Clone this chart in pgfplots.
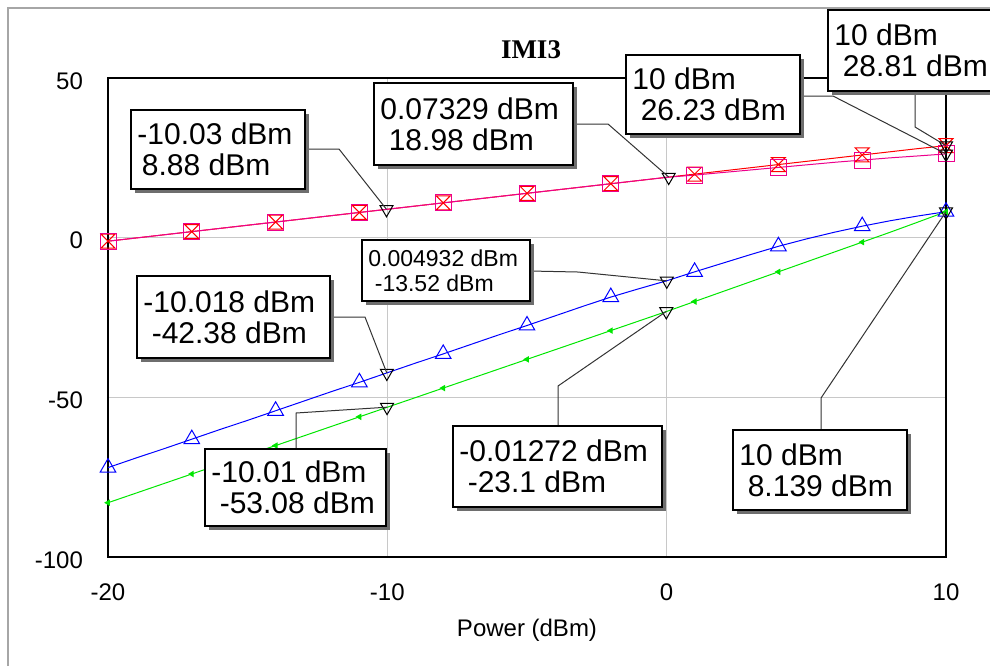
\documentclass[border=0pt]{standalone}
\usepackage{fontspec}
\setmainfont{Liberation Sans}
\newfontfamily\titlefont{Liberation Serif}
\usepackage{pgfplots}
\usepackage{pgfplotstable}
\pgfplotsset{compat=1.18}

\definecolor{lgreen}{RGB}{0,230,0}
\definecolor{gridc}{RGB}{200,200,200}
\definecolor{shadowc}{RGB}{110,110,110}

\pgfdeclareplotmark{hourglass}{%
  \pgfpathmoveto{\pgfpoint{-\pgfplotmarksize}{\pgfplotmarksize}}%
  \pgfpathlineto{\pgfpoint{\pgfplotmarksize}{\pgfplotmarksize}}%
  \pgfpathlineto{\pgfpoint{-\pgfplotmarksize}{-\pgfplotmarksize}}%
  \pgfpathlineto{\pgfpoint{\pgfplotmarksize}{-\pgfplotmarksize}}%
  \pgfpathclose
  \pgfusepathqstroke}

\pgfplotstableread{
x     red    mag    blue    green
-20  -1.1   -1.1   -72.0   -83.0
-19  -0.1   -0.1   -69.0   -80.0
-18   0.9    0.9   -66.1   -77.0
-17   1.9    1.9   -63.1   -74.0
-16   2.9    2.9   -60.1   -71.0
-15   3.9    3.9   -57.2   -68.0
-14   4.9    4.9   -54.2   -65.1
-13   5.9    5.9   -51.2   -62.1
-12   6.9    6.9   -48.2   -59.1
-11   7.9    7.9   -45.3   -56.1
-10   8.9    8.9   -42.3   -53.1
-9    9.9    9.9   -39.3   -50.1
-8   10.9   10.9   -36.4   -47.1
-7   11.9   11.9   -33.4   -44.1
-6   12.9   12.9   -30.4   -41.1
-5   13.9   13.9   -27.5   -38.1
-4   14.9   14.9   -24.5   -35.1
-3   15.9   15.9   -21.5   -32.1
-2   16.9   16.9   -18.6   -29.1
-1   17.9   17.9   -16.0   -26.1
0    18.9   18.9   -13.5   -23.1
1    19.9   19.6   -10.7   -20.0
2    20.9   20.4    -8.0   -16.9
3    21.9   21.2    -5.3   -13.8
4    22.9   22.0    -2.7   -10.7
5    23.9   22.8    -0.4    -7.6
6    24.9   23.6     1.7    -4.5
7    25.9   24.3     3.6    -1.4
8    26.9   25.0     5.3     1.7
9    27.9   25.6     6.8     4.9
10   28.81  26.23    8.14    8.14
}\datatable

\newcommand\bigf{\fontsize{15pt}{15.5pt}\selectfont}
\newcommand\smallf{\fontsize{11.5pt}{12.5pt}\selectfont}
\newcommand\ind{\hspace*{0.28em}}
% x1 y1 x2 y2 font text   (pixel units, y downwards)
\newcommand\abox[6]{%
  \fill[shadowc] (#1+4,#2+4) rectangle (#3+4,#4+4);
  \draw[fill=white, line width=0.75pt] (#1,#2) rectangle (#3,#4);
  \node[anchor=west, align=left, inner sep=0pt, font=#5] at (#1+6,{(#2+#4)/2}) {#6};
}

\begin{document}
\begin{tikzpicture}
\path[use as bounding box] (0,0) rectangle (495pt,-333pt);
\begin{axis}[
  at={(54pt,-278.5pt)}, anchor=south west,
  scale only axis, width=419pt, height=239.5pt,
  xmin=-20, xmax=10, ymin=-100, ymax=50,
  xtick={-20,-10,0,10}, xticklabels={-20,-10,0,10},
  ytick={-100,-50,0,50}, yticklabels={-100,-50,0,50},
  major tick length=0pt,
  grid=major, major grid style={gridc, line width=0.5pt},
  axis line style={black, line width=0.8pt},
  tick label style={font=\fontsize{12pt}{14pt}\selectfont},
  xticklabel style={yshift=-10pt},
  yticklabel style={anchor=east, xshift=-9pt, yshift=-1.5pt},
  clip=false,
]
\addplot[red, line width=0.5pt, mark=hourglass, mark size=3.5pt, mark repeat=3, mark phase=1, mark options={solid, line width=0.5pt}] table[x=x, y=red] {\datatable};
\addplot[magenta, line width=0.5pt, mark=square, mark size=4pt, mark repeat=3, mark phase=1, mark options={solid, line width=0.5pt}] table[x=x, y=mag] {\datatable};
\addplot[blue, line width=0.5pt, mark=triangle, mark size=4.5pt, mark repeat=3, mark phase=1, mark options={solid, line width=0.5pt}] table[x=x, y=blue] {\datatable};
\addplot[lgreen, line width=0.5pt, mark=triangle*, mark size=1.4pt, mark repeat=3, mark phase=1, mark options={solid, rotate=90}] table[x=x, y=green] {\datatable};
\addplot[black, only marks, mark=triangle, mark size=3.75pt, mark options={rotate=180, line width=0.5pt}] coordinates {
  (-10.03,8.88) (0.07329,18.98) (10,28.81) (10,26.23) (0.004932,-13.52)
  (-10.018,-42.38) (-10.01,-53.08) (-0.01272,-23.1) (10,8.139)};
\coordinate (m1) at (axis cs:-10.03,8.88);
\coordinate (m2) at (axis cs:0.07329,18.98);
\coordinate (m3) at (axis cs:10,26.23);
\coordinate (m4) at (axis cs:10,28.81);
\coordinate (m5) at (axis cs:0.004932,-13.52);
\coordinate (m6) at (axis cs:-10.018,-42.38);
\coordinate (m7) at (axis cs:-10.01,-53.08);
\coordinate (m8) at (axis cs:-0.01272,-23.1);
\coordinate (m9) at (axis cs:10,8.139);
\end{axis}
\begin{scope}[x=0.5pt, y=-0.5pt]
  % outer frame
  \draw[gray!70, line width=0.75pt] (8,666) -- (8,8) -- (995,8);
  % title and label
  \node[font=\titlefont\bfseries\fontsize{13.5pt}{15pt}\selectfont] at (531,50) {IMI3};
  \node[font=\fontsize{12pt}{14pt}\selectfont] at (527,630) {Power (dBm)};
  % leaders
  \begin{scope}[black!80, line width=0.5pt]
    \draw (305,149) -- (339,149) -- (m1);
    \draw (573,124) -- (608,124) -- (m2);
    \draw (800,96) -- (833,96) -- (m3);
    \draw (915,91) -- (915,127) -- (m4);
    \draw (530,271) -- (578,272) -- (m5);
    \draw (330,317) -- (365,317) -- (m6);
    \draw (296,449) -- (296,413) -- (m7);
    \draw (558,426) -- (558,386) -- (m8);
    \draw (821,430) -- (821,398) -- (m9);
  \end{scope}
  % boxes
  \abox{131}{110}{305}{189}{\bigf}{-10.03 dBm\\\hspace*{0.15em}8.88 dBm}
  \abox{374}{83}{573}{165}{\bigf}{0.07329 dBm\\\ind 18.98 dBm}
  \abox{626}{55}{800}{134}{\bigf}{10 dBm\\\ind 26.23 dBm}
  \abox{828}{10}{1004}{91}{\bigf}{10 dBm\\\ind 28.81 dBm}
  \abox{362}{240}{530}{301}{\smallf}{0.004932 dBm\\\ind -13.52 dBm}
  \abox{137}{276}{330}{358}{\bigf}{-10.018 dBm\\\ind -42.38 dBm}
  \abox{205}{449}{386}{526}{\bigf}{-10.01 dBm\\\ind -53.08 dBm}
  \abox{453}{426}{662}{507}{\bigf}{-0.01272 dBm\\\ind -23.1 dBm}
  \abox{733}{430}{907}{510}{\bigf}{10 dBm\\\ind 8.139 dBm}
\end{scope}
\end{tikzpicture}
\end{document}
